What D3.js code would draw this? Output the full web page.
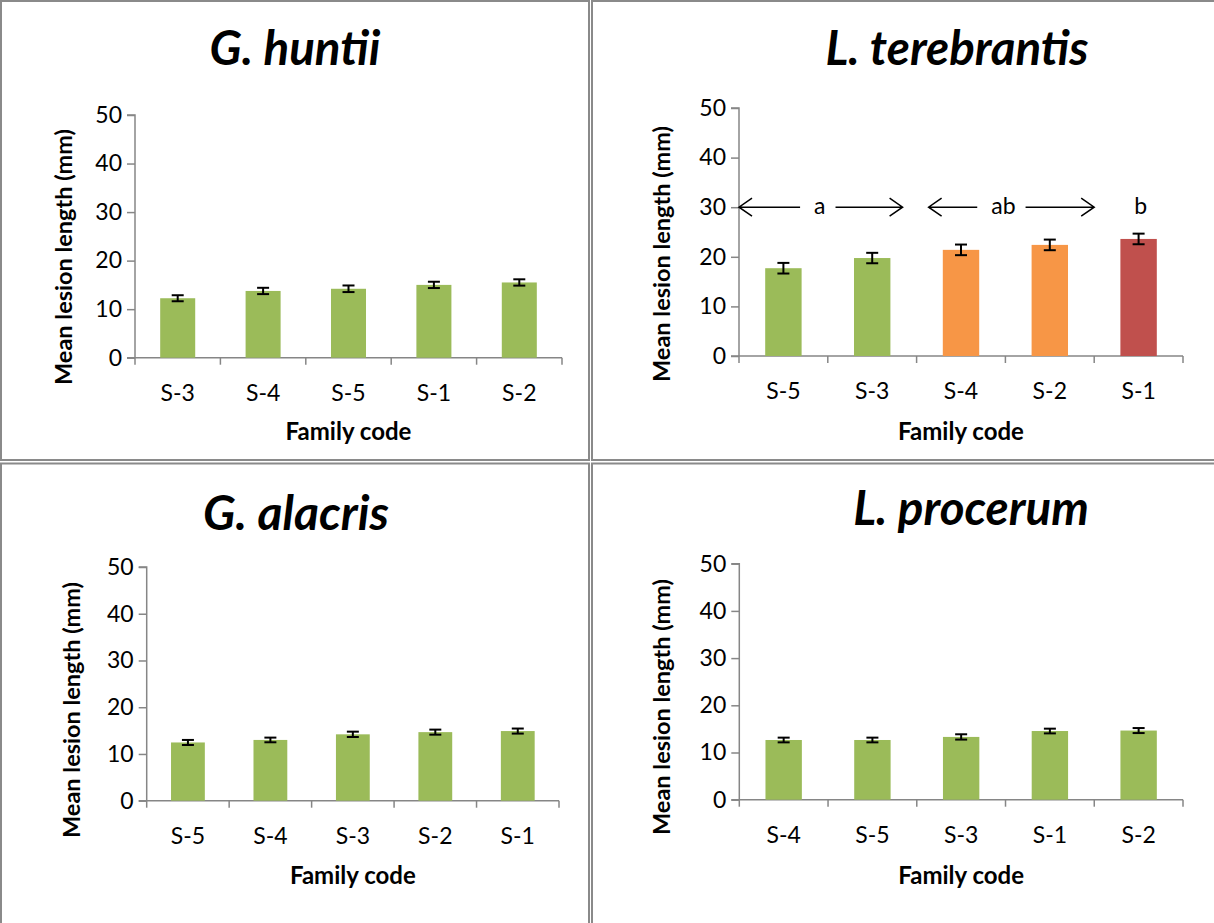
<!DOCTYPE html>
<html><head><meta charset="utf-8">
<script src="https://cdn.jsdelivr.net/npm/d3@7"></script>
<style>
body{margin:0;background:#fff}
svg{display:block}
text{font-family:Lato,"Open Sans",sans-serif;fill:#000}
</style>
</head><body>
<svg id="chart" width="1214" height="923"></svg>
<script>
// ---------- data ----------
const yTicks = [0, 10, 20, 30, 40, 50];
const yLabel = "Mean lesion length (mm)";
const xLabel = "Family code";

const huntiiTitle = "G. huntii";
const huntiiFamilies = ["S-3", "S-4", "S-5", "S-1", "S-2"];
const huntiiMeans = [12.25, 13.75, 14.2, 15.0, 15.5];
const huntiiErrors = [0.62, 0.65, 0.68, 0.65, 0.65];

const terebrantisTitle = "L. terebrantis";
const terebrantisFamilies = ["S-5", "S-3", "S-4", "S-2", "S-1"];
const terebrantisMeans = [17.7, 19.75, 21.4, 22.4, 23.6];
const terebrantisErrors = [1.07, 1.05, 1.07, 1.07, 1.07];
const terebrantisGroups = ["a", "a", "ab", "ab", "b"];
const terebrantisLetterLevel = 30;

const alacrisTitle = "G. alacris";
const alacrisFamilies = ["S-5", "S-4", "S-3", "S-2", "S-1"];
const alacrisMeans = [12.46, 13.0, 14.2, 14.67, 14.9];
const alacrisErrors = [0.54, 0.5, 0.57, 0.54, 0.54];

const procerumTitle = "L. procerum";
const procerumFamilies = ["S-4", "S-5", "S-3", "S-1", "S-2"];
const procerumMeans = [12.65, 12.65, 13.3, 14.55, 14.65];
const procerumErrors = [0.5, 0.5, 0.56, 0.5, 0.53];

// ---------- styles / layout ----------
const groupColor = {a: "#9BBB59", ab: "#F79646", b: "#C0504D"};
const defaultColor = "#9BBB59";
const axisColor = "#868686";
const borderColor = "#8a8a8a";
const tickFont = "23px", axisTitleFont = "23.5px", letterFont = "23px";

const panels = [
  {title: huntiiTitle, fam: huntiiFamilies, mean: huntiiMeans, err: huntiiErrors, groups: null,
   L: {bx:1, by:1, bw:588, bh:459, x0:135, x1:562, y0:357.7, y50:115, tx:295, ty:65, tsize:47.5,
       tickY:401, xtY:440, ytX:64, ytC:257}},
  {title: terebrantisTitle, fam: terebrantisFamilies, mean: terebrantisMeans, err: terebrantisErrors, groups: terebrantisGroups,
   L: {bx:592, by:1, bw:640, bh:459, x0:739, x1:1183, y0:356, y50:108, tx:957, ty:65, tsize:47.5,
       tickY:399, xtY:440, ytX:662, ytC:254}},
  {title: alacrisTitle, fam: alacrisFamilies, mean: alacrisMeans, err: alacrisErrors, groups: null,
   L: {bx:1, by:463.5, bw:588, bh:480, x0:146.7, x1:559, y0:800.7, y50:567, tx:296, ty:530, tsize:48,
       tickY:844, xtY:884, ytX:72, ytC:710}},
  {title: procerumTitle, fam: procerumFamilies, mean: procerumMeans, err: procerumErrors, groups: null,
   L: {bx:592, by:463.5, bw:640, bh:480, x0:739.3, x1:1183, y0:799.7, y50:563.7, tx:971, ty:525, tsize:47.5,
       tickY:843, xtY:884, ytX:662, ytC:707}}
];

const svg = d3.select("#chart");
svg.append("rect").attr("width",1214).attr("height",923).attr("fill","#fff");

panels.forEach((p) => {
  const L = p.L;
  const g = svg.append("g");
  g.append("rect").attr("x", L.bx).attr("y", L.by).attr("width", L.bw).attr("height", L.bh)
    .attr("fill", "none").attr("stroke", borderColor).attr("stroke-width", 2);

  const x = d3.scaleBand().domain(p.fam).range([L.x0, L.x1]).paddingInner(0).paddingOuter(0);
  const y = d3.scaleLinear().domain([0, 50]).range([L.y0, L.y50]);

  g.append("text").attr("x", L.tx).attr("y", L.ty).attr("text-anchor", "middle")
    .style("font-size", L.tsize + "px").style("font-weight", "bold").style("font-style", "italic")
    .text(p.title);

  const ya = g.append("g").attr("transform", `translate(${L.x0},0)`)
    .call(d3.axisLeft(y).tickValues(yTicks).tickSize(8).tickPadding(5).tickFormat(d3.format("d")));
  ya.select(".domain").attr("stroke", axisColor).attr("stroke-width", 1.5).attr("d", `M-8,${L.y50}H0V${L.y0}`);
  ya.selectAll(".tick line").attr("stroke", axisColor).attr("stroke-width", 1.5);
  ya.selectAll(".tick text").style("font-size", tickFont).style("font-family", "Lato").attr("fill", "#000");

  const xa = g.append("g").attr("transform", `translate(0,${L.y0})`)
    .call(d3.axisBottom(x).tickSize(0).tickFormat(() => ""));
  xa.select(".domain").attr("stroke", axisColor).attr("stroke-width", 1.5).attr("d", `M${L.x0 - 8},0H${L.x1}`);
  xa.selectAll(".tick").remove();
  const bounds = p.fam.map(f => x(f)).concat([x(p.fam[p.fam.length - 1]) + x.bandwidth()]);
  xa.selectAll("line.bt").data(bounds).join("line").attr("class", "bt")
    .attr("x1", d => d).attr("x2", d => d).attr("y1", 0).attr("y2", 7)
    .attr("stroke", axisColor).attr("stroke-width", 1.5);
  g.selectAll("text.xl").data(p.fam).join("text").attr("class", "xl")
    .attr("x", d => x(d) + x.bandwidth() / 2).attr("y", L.tickY).attr("text-anchor", "middle")
    .style("font-size", tickFont).text(d => d);

  g.append("text").attr("x", (L.x0 + L.x1) / 2).attr("y", L.xtY).attr("text-anchor", "middle")
    .style("font-size", "24px").style("font-weight", "bold").text(xLabel);
  g.append("text").attr("transform", `translate(${L.ytX},${L.ytC}) rotate(-90)`)
    .attr("text-anchor", "middle").attr("dy", "0.35em")
    .style("font-size", axisTitleFont).style("font-weight", "bold").text(yLabel);

  const bw = x.bandwidth() * 0.41;
  const rows = p.fam.map((f, i) => ({f, m: p.mean[i], e: p.err[i], grp: p.groups ? p.groups[i] : null}));
  g.selectAll("rect.bar").data(rows).join("rect").attr("class", "bar")
    .attr("x", d => x(d.f) + (x.bandwidth() - bw) / 2).attr("width", bw)
    .attr("y", d => y(d.m)).attr("height", d => y(0) - y(d.m))
    .attr("fill", d => d.grp ? groupColor[d.grp] : defaultColor);

  const cap = 6;
  const eb = g.selectAll("g.eb").data(rows).join("g").attr("class", "eb")
    .attr("stroke", "#000").attr("stroke-width", 2);
  eb.append("line").attr("x1", d => x(d.f) + x.bandwidth() / 2).attr("x2", d => x(d.f) + x.bandwidth() / 2)
    .attr("y1", d => y(d.m + d.e)).attr("y2", d => y(d.m - d.e));
  eb.append("line").attr("x1", d => x(d.f) + x.bandwidth() / 2 - cap).attr("x2", d => x(d.f) + x.bandwidth() / 2 + cap)
    .attr("y1", d => y(d.m + d.e)).attr("y2", d => y(d.m + d.e));
  eb.append("line").attr("x1", d => x(d.f) + x.bandwidth() / 2 - cap).attr("x2", d => x(d.f) + x.bandwidth() / 2 + cap)
    .attr("y1", d => y(d.m - d.e)).attr("y2", d => y(d.m - d.e));

  if (p.groups) {
    const ly = y(terebrantisLetterLevel);
    const letters = Array.from(new Set(p.groups));
    const bwid = x.bandwidth();
    letters.forEach(letter => {
      const idx = p.groups.map((gg, i) => gg === letter ? i : -1).filter(i => i >= 0);
      const first = idx[0], last = idx[idx.length - 1];
      const start = x(p.fam[first]);
      const end = x(p.fam[last]) + bwid;
      const multi = idx.length > 1;
      const cx = multi ? (start + end) / 2 - (first === 0 ? 8 : 2) : start + bwid / 2 + 2;
      const t = g.append("text").attr("x", cx).attr("y", ly).attr("dy", "0.3em")
        .attr("text-anchor", "middle").style("font-size", letterFont).text(letter);
      if (multi) {
        const w = t.node().getComputedTextLength();
        const a0 = start + (first === 0 ? 0 : 12);
        const a1 = end - (first === 0 ? 14 : 0);
        const lt = cx - w / 2 - 14, rt = cx + w / 2 + 10;
        const ag = g.append("g").attr("stroke", "#000").attr("stroke-width", 1.5).attr("fill", "none");
        ag.append("path").attr("d", `M${lt},${ly}H${a0}M${a0 + 13},${ly - 9}L${a0},${ly}L${a0 + 13},${ly + 9}`);
        ag.append("path").attr("d", `M${rt},${ly}H${a1}M${a1 - 13},${ly - 9}L${a1},${ly}L${a1 - 13},${ly + 9}`);
      }
    });
  }
});
</script>
</body></html>
